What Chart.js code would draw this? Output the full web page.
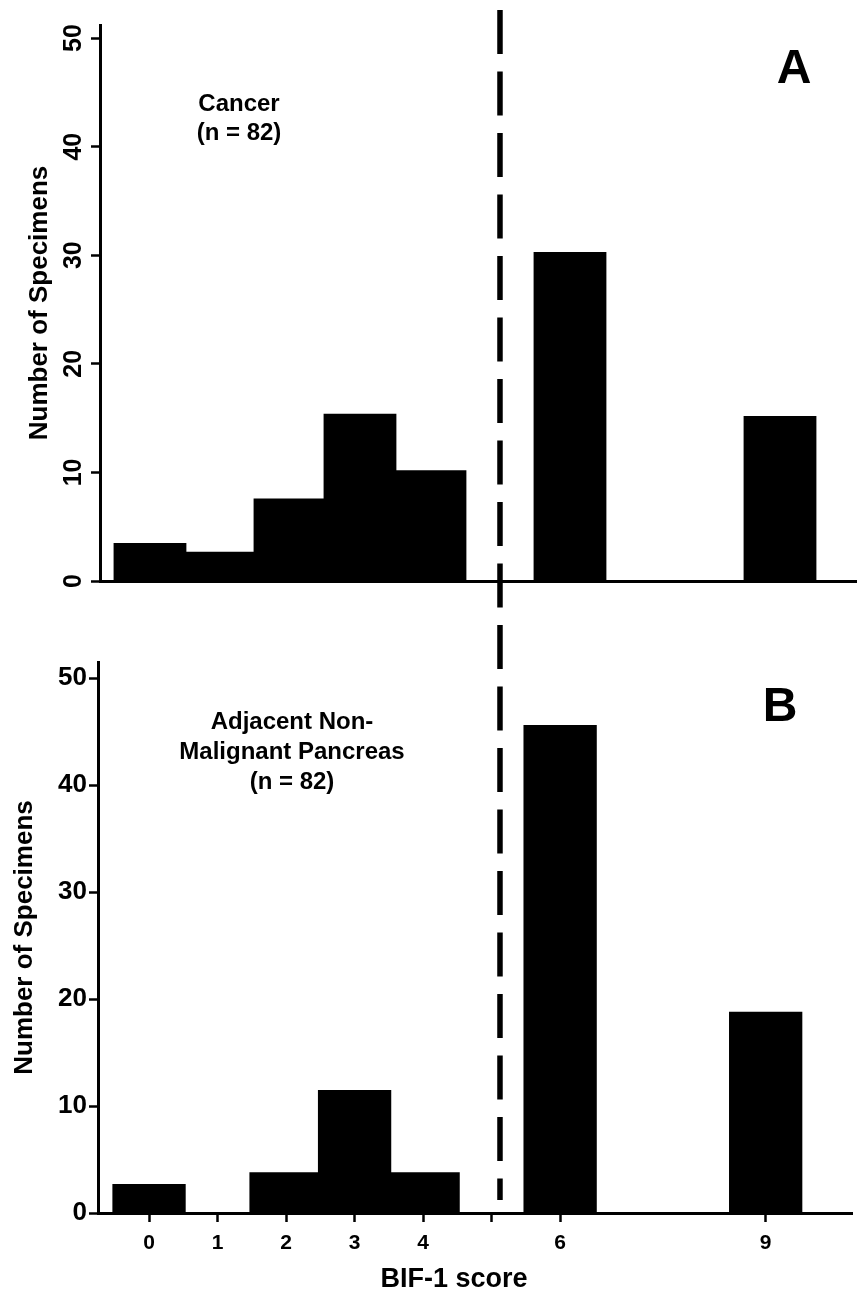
<!DOCTYPE html>
<html>
<head>
<meta charset="utf-8">
<script src="https://cdn.jsdelivr.net/npm/chart.js@4.4.1/dist/chart.umd.min.js"></script>
<style>
  html, body { margin: 0; padding: 0; background: #fff; }
  #page { position: relative; width: 857px; height: 1299px; }
  .panel { position: absolute; left: 0; width: 857px; }
  #panelA { top: 0; height: 620px; }
  #panelB { top: 620px; height: 679px; }
</style>
</head>
<body>
<div id="page">
  <div class="panel" id="panelA"><canvas id="chartA"></canvas></div>
  <div class="panel" id="panelB"><canvas id="chartB"></canvas></div>
</div>
<script>
// BIF-1 score bins and number of specimens
const scoresA = [0, 1, 2, 3, 4, 6, 9];
const countsA = [3.5, 2.7, 7.6, 15.4, 10.2, 30.3, 15.2];   // Cancer

const scoresB = [0, 1, 2, 3, 4, 6, 9];
const countsB = [2.7, 0, 3.8, 11.5, 3.8, 45.6, 18.8];      // Adjacent non-malignant

const xTickValues = [0, 1, 2, 3, 4, 5, 6, 9];
const xTickLabels = ['0', '1', '2', '3', '4', '', '6', '9'];
const yTickValues = [0, 10, 20, 30, 40, 50];

const cutoffScore = 5; // dashed cut-off line between 4 and 6

const FONT = "'Liberation Sans', Arial, Helvetica, sans-serif";
Chart.defaults.font.family = FONT;
Chart.defaults.font.weight = 'bold';
Chart.defaults.color = '#000';

const toPoints = (xs, ys) => xs.map((x, i) => ({ x: x, y: ys[i] }));

// dashed vertical line, one line running through both panels
let cutoffX = null;
const cutoffLine = {
    id: 'cutoffLine',
    afterDraw(chart, args, opts) {
        const ctx = chart.ctx;
        if (cutoffX === null) cutoffX = chart.scales.x.getPixelForValue(cutoffScore);
        ctx.save();
        ctx.strokeStyle = '#000';
        ctx.lineWidth = 5.5;
        ctx.setLineDash([44, 17.5]);
        ctx.lineDashOffset = opts.dashOffset || 0;
        ctx.beginPath();
        ctx.moveTo(cutoffX, opts.top);
        ctx.lineTo(cutoffX, opts.bottom);
        ctx.stroke();
        ctx.restore();
    }
};

// panel letters, group captions, x axis title
const panelText = {
    id: 'panelText',
    afterDraw(chart, args, opts) {
        const ctx = chart.ctx;
        ctx.save();
        ctx.fillStyle = '#000';
        ctx.textAlign = 'center';
        ctx.textBaseline = 'middle';
        opts.items.forEach(t => {
            ctx.font = 'bold ' + t.size + 'px ' + FONT;
            t.lines.forEach((line, i) => ctx.fillText(line, t.x, t.y + i * (t.gap || 0)));
        });
        ctx.restore();
    }
};

function yAxis(max, width, tickFont, pad, rotated, titlePad) {
    return {
        min: 0,
        max: max,
        afterBuildTicks: s => { s.ticks = yTickValues.map(v => ({ value: v })); },
        afterFit: s => { s.width = width; },
        border: { display: true, color: '#000', width: 3 },
        grid: { drawOnChartArea: false, drawTicks: true, tickLength: 9, tickWidth: 2.5, tickColor: '#000' },
        ticks: {
            color: '#000',
            font: { size: tickFont, weight: 'bold' },
            padding: pad,
            minRotation: rotated ? 90 : 0,
            maxRotation: rotated ? 90 : 0,
            crossAlign: rotated ? 'center' : 'near'
        },
        title: {
            display: true,
            text: 'Number of Specimens',
            color: '#000',
            font: { size: 26, weight: 'bold' },
            padding: { top: titlePad, bottom: 0 }
        }
    };
}

// ---- Panel A : Cancer ----
new Chart(document.getElementById('chartA'), {
    type: 'bar',
    data: {
        datasets: [{
            data: toPoints(scoresA, countsA),
            backgroundColor: '#000',
            borderWidth: 0,
            barPercentage: 1.04,
            categoryPercentage: 1
        }]
    },
    options: {
        responsive: true,
        maintainAspectRatio: false,
        animation: false,
        layout: { padding: { top: 25, left: 0, right: 0, bottom: 0 } },
        scales: {
            x: {
                type: 'linear',
                min: -0.714,
                max: 10.1,
                offset: false,
                afterBuildTicks: s => { s.ticks = xTickValues.map(v => ({ value: v })); },
                afterFit: s => { s.height = 39; },
                border: { display: true, color: '#000', width: 3 },
                grid: { display: false, offset: false },
                ticks: { display: false }
            },
            y: yAxis(51.2, 100, 25, 3, true, 24)
        },
        plugins: {
            legend: { display: false },
            tooltip: { enabled: false },
            cutoffLine: { top: 10, bottom: 620, dashOffset: 0 },
            panelText: {
                items: [
                    { lines: ['Cancer', '(n = 82)'], x: 239, y: 104, size: 24, gap: 29 },
                    { lines: ['A'], x: 794, y: 70, size: 48 }
                ]
            }
        }
    },
    plugins: [cutoffLine, panelText]
});

// ---- Panel B : Adjacent Non-Malignant Pancreas ----
new Chart(document.getElementById('chartB'), {
    type: 'bar',
    data: {
        datasets: [{
            data: toPoints(scoresB, countsB),
            backgroundColor: '#000',
            borderWidth: 0,
            barPercentage: 1.07,
            categoryPercentage: 1
        }]
    },
    options: {
        responsive: true,
        maintainAspectRatio: false,
        animation: false,
        layout: { padding: { top: 42, left: 0, right: 5, bottom: 0 } },
        scales: {
            x: {
                type: 'linear',
                min: -0.745,
                max: 10.26,
                offset: false,
                afterBuildTicks: s => { s.ticks = xTickValues.map(v => ({ value: v })); },
                afterFit: s => { s.height = 86; },
                border: { display: true, color: '#000', width: 3 },
                grid: { offset: false, drawOnChartArea: false, drawTicks: true, tickLength: 9, tickWidth: 2.5, tickColor: '#000' },
                ticks: {
                    color: '#000',
                    font: { size: 21, weight: 'bold' },
                    padding: 9,
                    autoSkip: false,
                    maxRotation: 0,
                    callback: v => xTickLabels[xTickValues.indexOf(v)]
                }
            },
            y: yAxis(51.5, 98, 26, 2, false, 9)
        },
        plugins: {
            legend: { display: false },
            tooltip: { enabled: false },
            cutoffLine: { top: 0, bottom: 580, dashOffset: 56.5 },
            panelText: {
                items: [
                    { lines: ['Adjacent Non-', 'Malignant Pancreas', '(n = 82)'], x: 292, y: 102, size: 24, gap: 30 },
                    { lines: ['B'], x: 780, y: 88, size: 48 },
                    { lines: ['BIF-1 score'], x: 454, y: 660, size: 27 }
                ]
            }
        }
    },
    plugins: [cutoffLine, panelText]
});
</script>
</body>
</html>
